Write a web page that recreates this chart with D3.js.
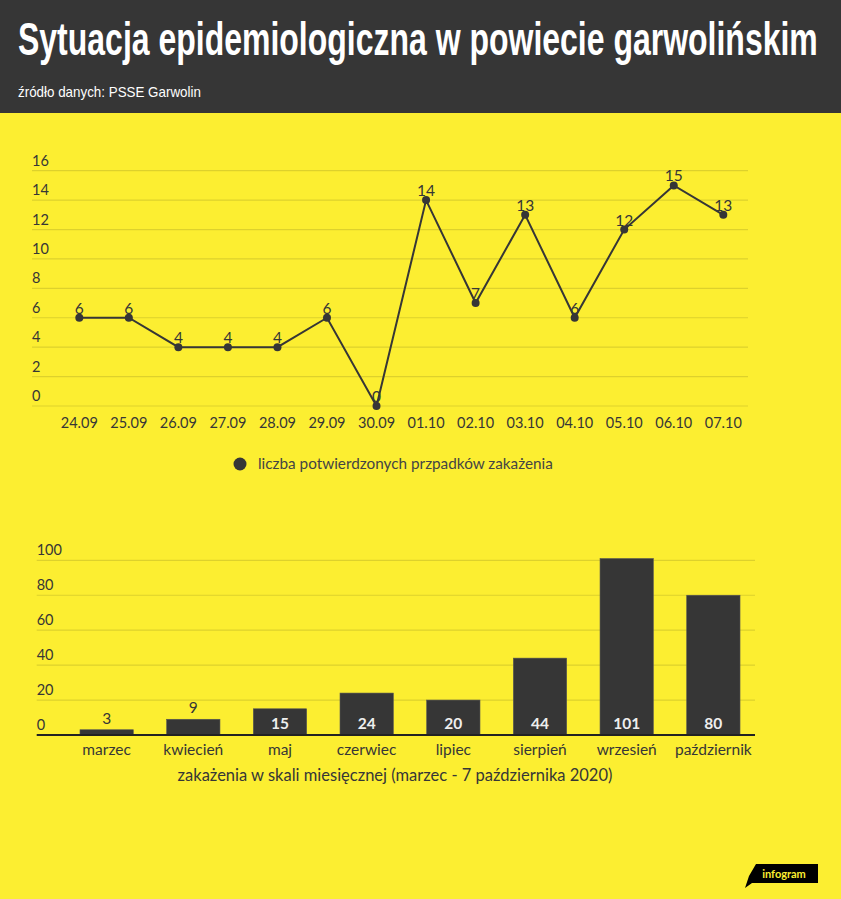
<!DOCTYPE html>
<html>
<head>
<meta charset="utf-8">
<script src="https://cdn.jsdelivr.net/npm/d3@7"></script>
<style>
  body { margin: 0; background: #fcee31; }
  svg { display: block; }
</style>
</head>
<body>
<div id="chart"></div>
<script>
// daily cases
const days = ["24.09", "25.09", "26.09", "27.09", "28.09", "29.09", "30.09",
  "01.10", "02.10", "03.10", "04.10", "05.10", "06.10", "07.10"];
const dailyCases = [6, 6, 4, 4, 4, 6, 0, 14, 7, 13, 6, 12, 15, 13];
const lineTicks = [0, 2, 4, 6, 8, 10, 12, 14, 16];

// monthly cases
const months = ["marzec", "kwiecień", "maj", "czerwiec", "lipiec", "sierpień", "wrzesień", "październik"];
const monthlyCases = [3, 9, 15, 24, 20, 44, 101, 80];
const barTicks = [0, 20, 40, 60, 80, 100];

var W = 841, H = 899;
var dark = "#363636";
var yellow = "#fcee31";
var grid = "#ddd12c";
var font = "Lato, 'Open Sans', sans-serif";

var svg = d3.select("#chart").append("svg")
  .attr("width", W).attr("height", H)
  .style("font-family", font);

svg.append("rect").attr("width", W).attr("height", H).attr("fill", yellow);

// squeeze a text horizontally so it fits a given width
function fitWidth(sel, x, y, w) {
  var len = sel.node().getComputedTextLength();
  sel.attr("x", 0).attr("y", 0)
    .attr("transform", "translate(" + x + "," + y + ") scale(" + (w / len) + ",1)");
}

// header
svg.append("rect").attr("width", W).attr("height", 113).attr("fill", dark);
var title = svg.append("text")
  .style("font-family", "'Liberation Sans Narrow', 'Liberation Sans', sans-serif")
  .style("font-weight", "bold").style("font-size", "46px")
  .attr("fill", "#fff")
  .text("Sytuacja epidemiologiczna w powiecie garwolińskim");
fitWidth(title, 18, 55, 800);
var sub = svg.append("text")
  .style("font-family", "'Liberation Sans Narrow', 'Liberation Sans', sans-serif")
  .style("font-size", "14px").attr("fill", "#fff")
  .text("źródło danych: PSSE Garwolin");
fitWidth(sub, 18, 97, 183);

// ---- line chart ----
var x = d3.scalePoint().domain(days).range([79.3, 723.3]);
var y = d3.scaleLinear().domain([0, 16]).range([406, 170.7]);

var g1 = svg.append("g");
g1.selectAll(".grid").data(lineTicks).enter().append("line")
  .attr("x1", 32).attr("x2", 748)
  .attr("y1", d => y(d)).attr("y2", d => y(d))
  .attr("stroke", grid).attr("stroke-width", 1.2);
g1.selectAll(".ylab").data(lineTicks).enter().append("text")
  .attr("x", 32).attr("y", d => y(d) - 5)
  .style("font-size", "14.5px").attr("fill", dark)
  .text(d => d);
g1.selectAll(".xlab").data(days).enter().append("text")
  .attr("x", d => x(d)).attr("y", 428)
  .attr("text-anchor", "middle")
  .style("font-size", "14.5px").attr("fill", dark)
  .text(d => d);

var line = d3.line()
  .x((d, i) => x(days[i]))
  .y(d => y(d));
g1.append("path").datum(dailyCases)
  .attr("d", line).attr("fill", "none")
  .attr("stroke", dark).attr("stroke-width", 2);
g1.selectAll(".dot").data(dailyCases).enter().append("circle")
  .attr("cx", (d, i) => x(days[i])).attr("cy", d => y(d))
  .attr("r", 4).attr("fill", dark);
g1.selectAll(".val").data(dailyCases).enter().append("text")
  .attr("x", (d, i) => x(days[i])).attr("y", d => y(d) - 4)
  .attr("text-anchor", "middle")
  .style("font-size", "15.5px").attr("fill", dark)
  .text(d => d);

// legend
svg.append("circle").attr("cx", 240).attr("cy", 464).attr("r", 6.5).attr("fill", dark);
svg.append("text").attr("x", 258).attr("y", 469)
  .style("font-size", "15.3px").attr("fill", "#444")
  .text("liczba potwierdzonych przpadków zakażenia");

// ---- bar chart ----
var xb = d3.scaleBand().domain(months).range([63.3, 756.7])
  .paddingInner(0.385).paddingOuter(0.1925);
var yb = d3.scaleLinear().domain([0, 100]).range([735, 560.3]);

var g2 = svg.append("g");
g2.selectAll(".grid").data(barTicks.slice(1)).enter().append("line")
  .attr("x1", 36.7).attr("x2", 755)
  .attr("y1", d => yb(d)).attr("y2", d => yb(d))
  .attr("stroke", grid).attr("stroke-width", 1.2);
g2.selectAll(".ylab").data(barTicks).enter().append("text")
  .attr("x", 36.7).attr("y", d => yb(d) - 5)
  .style("font-size", "14.5px").attr("fill", dark)
  .text(d => d);

g2.selectAll(".bar").data(monthlyCases).enter().append("rect")
  .attr("x", (d, i) => xb(months[i]))
  .attr("y", d => yb(d))
  .attr("width", xb.bandwidth())
  .attr("height", d => yb(0) - yb(d))
  .attr("fill", dark).attr("stroke", "#555").attr("stroke-width", 0.6);

g2.append("line").attr("x1", 36.7).attr("x2", 755)
  .attr("y1", yb(0)).attr("y2", yb(0))
  .attr("stroke", "#222").attr("stroke-width", 2);

g2.selectAll(".val").data(monthlyCases).enter().append("text")
  .attr("x", (d, i) => xb(months[i]) + xb.bandwidth() / 2)
  .attr("y", d => (yb(0) - yb(d) > 20) ? yb(0) - 6 : yb(d) - 6)
  .attr("text-anchor", "middle")
  .style("font-size", "15.5px")
  .style("font-weight", d => (yb(0) - yb(d) > 20) ? "bold" : "normal")
  .attr("fill", d => (yb(0) - yb(d) > 20) ? "#eee" : dark)
  .text(d => d);

g2.selectAll(".xlab").data(months).enter().append("text")
  .attr("x", d => xb(d) + xb.bandwidth() / 2).attr("y", 755)
  .attr("text-anchor", "middle")
  .style("font-size", "15.5px").attr("fill", dark)
  .text(d => d);

svg.append("text").attr("x", 395).attr("y", 781)
  .attr("text-anchor", "middle")
  .style("font-size", "16.5px").attr("fill", dark)
  .text("zakażenia w skali miesięcznej (marzec - 7 października 2020)");

// infogram badge
var logo = svg.append("g");
logo.append("path")
  .attr("d", "M756,864 L818,864 L818,883 L752,883 L745,888 L749,876 Z")
  .attr("fill", "#000");
logo.append("text").attr("x", 784).attr("y", 878)
  .attr("text-anchor", "middle")
  .style("font-size", "11px").style("font-weight", "bold")
  .attr("fill", yellow).text("infogram");
</script>
</body>
</html>
